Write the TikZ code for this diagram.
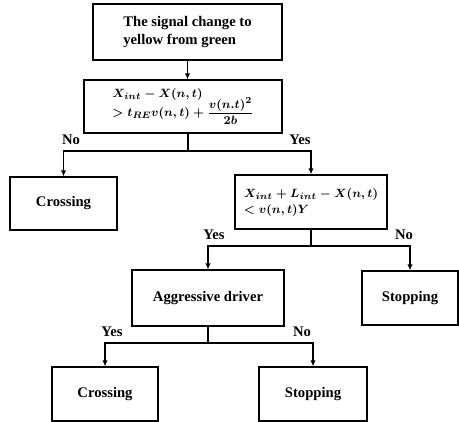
\documentclass[tikz,border=0pt]{standalone}
\usepackage{fontspec}
\setmainfont{Liberation Serif}
\usepackage{amsmath}
\usepackage{tikz}
\usetikzlibrary{arrows.meta, positioning, calc}

\begin{document}
\begin{tikzpicture}[x=0.75pt, y=-0.75pt, >={Latex[length=4.5pt,width=4pt]},
    every node/.style={font=\fontsize{11}{13.5}\selectfont\bfseries\boldmath},
    box/.style={draw, line width=0.9pt, inner sep=2pt, align=left},
    mathbox/.style={box, font=\fontsize{9.5}{12}\selectfont\bfseries\boldmath},
    link/.style={line width=0.9pt}]
    \useasboundingbox (0,0) rectangle (459,421);
    % decision boxes
    \node[box, minimum width=141.75pt, minimum height=42pt] (start) at (187.5,32) {The signal change to\\yellow from green};
    \node[mathbox, minimum width=148.5pt, minimum height=39.75pt, inner sep=0pt] (cond1) at (183,106.5)
        {$X_{int}-X(n,t)$\\[-3pt] $>t_{RE}v(n,t)+\dfrac{v(n.t)^2}{2b}$};
    \node[box, minimum width=80.25pt, minimum height=39.75pt] (cross1) at (63.5,203.5) {Crossing};
    \node[mathbox, minimum width=114pt, minimum height=40.5pt] (cond2) at (311,202)
        {$X_{int}+L_{int}-X(n,t)$\\$<v(n,t)Y$};
    \node[box, minimum width=114pt, minimum height=42pt] (aggr) at (208,298) {Aggressive driver};
    \node[box, minimum width=72pt, minimum height=40.5pt] (stop1) at (410,298) {Stopping};
    \node[box, minimum width=79.5pt, minimum height=40.5pt] (cross2) at (105,394) {Crossing};
    \node[box, minimum width=81pt, minimum height=40.5pt] (stop2) at (313,394) {Stopping};
    % connectors
    \draw[link,->] (start.south) -- (start.south |- cond1.north);
    \coordinate (j1) at (188,151);
    \draw[link] (cond1.south -| j1) -- (j1);
    \draw[link,->] (j1) -| (cross1.north);
    \draw[link,->] (j1) -| (cond2.north);
    \coordinate (j2) at (311,246);
    \draw[link] (cond2.south) -- (j2);
    \draw[link,->] (j2) -| (aggr.north);
    \draw[link,->] (j2) -| (stop1.north);
    \coordinate (j3) at (208,343);
    \draw[link] (aggr.south) -- (j3);
    \draw[link,->] (j3) -| (cross2.north);
    \draw[link,->] (j3) -| (stop2.north);
    % branch labels
    \node (no1) at (71,140) {No};
    \node (yes1) at (300,140) {Yes};
    \node (yes2) at (214,235) {Yes};
    \node (no2) at (404,235) {No};
    \node (yes3) at (112,332) {Yes};
    \node (no3) at (302,332) {No};
\end{tikzpicture}
\end{document}
